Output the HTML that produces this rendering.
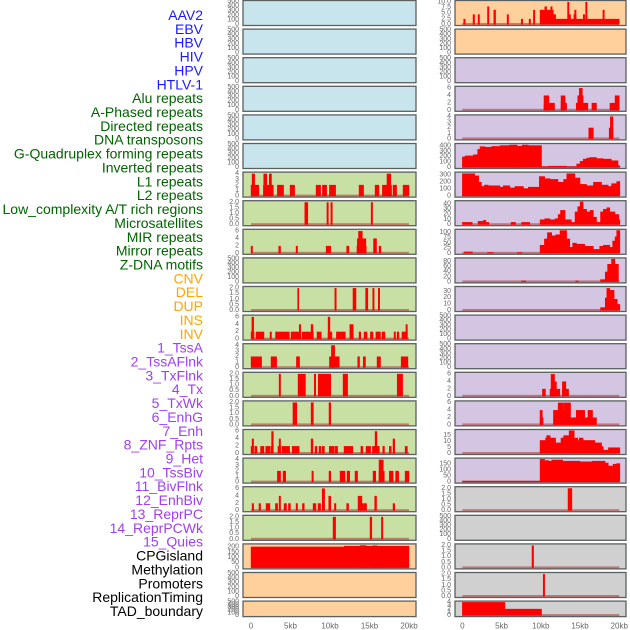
<!DOCTYPE html>
<html><head><meta charset="utf-8">
<style>
html,body{margin:0;padding:0;background:#fff;}
svg{display:block;}
.lab{font-family:"Liberation Sans",sans-serif;font-size:14px;}
.tk{font-family:"Liberation Sans",sans-serif;font-size:7px;fill:#666;}
.xt{font-family:"Liberation Sans",sans-serif;font-size:8px;fill:#666;}
</style></head>
<body>
<svg id="chart" width="630" height="630" viewBox="0 0 630 630"></svg>
<script>
// ---- data ----
const trackNames = ["AAV2","EBV","HBV","HIV","HPV","HTLV-1","Alu repeats","A-Phased repeats","Directed repeats","DNA transposons","G-Quadruplex forming repeats","Inverted repeats","L1 repeats","L2 repeats","Low_complexity A/T rich regions","Microsatellites","MIR repeats","Mirror repeats","Z-DNA motifs","CNV","DEL","DUP","INS","INV","1_TssA","2_TssAFlnk","3_TxFlnk","4_Tx","5_TxWk","6_EnhG","7_Enh","8_ZNF_Rpts","9_Het","10_TssBiv","11_BivFlnk","12_EnhBiv","13_ReprPC","14_ReprPCWk","15_Quies","CPGisland","Methylation","Promoters","ReplicationTiming","TAD_boundary"];
const trackGroups = ["v","v","v","v","v","v","r","r","r","r","r","r","r","r","r","r","r","r","r","s","s","s","s","s","h","h","h","h","h","h","h","h","h","h","h","h","h","h","h","o","o","o","o","o"];
const xTickLabels = ["0","5kb","10kb","15kb","20kb"];
const xTickValues = [0,5,10,15,20];
const ticksEmpty = [0,100,200,300,400,500];
const ticks2 = [0,0.5,1.0,1.5,2.0];
const ticks4 = [0,1,2,3,4];
const ticks6 = [0,2,4,6];

// left column segments [startKb, endKb, value]
const L7 = [[0,1.0,2],[0.13,0.47,4],[1.56,2.83,2],[1.6,2.0,4],[2.3,2.6,4],[3.33,4.13,2],[4.94,5.53,2],[8.23,8.82,2],[9.03,9.58,2],[9.92,10.72,2],[13.67,14.26,2],[15.7,16.2,2],[16.62,17.8,2],[17.2,17.7,4],[17.97,18.44,2],[19.24,20.0,2]];
const L8 = [[6.8,7.2,2],[9.6,9.8,2],[10.1,10.3,2],[15.2,15.4,2]];
const L9 = [[0,0.2,2],[3.5,3.75,2],[5.7,5.9,2],[9.5,10.1,2],[12.1,12.4,2],[13.4,14.6,2],[13.45,14.55,4],[13.6,14.1,6],[15.5,15.9,4],[16.2,16.45,2]];
const L11 = [[5.9,6.05,2],[10.6,10.8,2],[12.9,13.3,2],[14.5,14.8,2],[15.4,15.6,2],[16.1,16.3,2]];
const L12 = [[0,0.4,2],[0.1,0.35,6],[0.63,1.65,2],[2.4,2.6,2],[3.1,4.85,2],[5.06,6.2,2],[6.1,6.3,4],[6.45,7.9,2],[7.6,7.85,4],[8.35,8.9,2],[9.75,10.25,2],[9.75,10.0,6],[10.8,11.95,2],[12.5,12.95,4],[13.67,13.9,2],[14.3,14.7,2],[15.1,15.45,2],[15.8,16.4,2],[16.58,16.96,2],[18.1,18.3,2],[18.48,18.73,2],[19.1,19.8,2],[19.6,19.8,4]];
const L13 = [[0,1.35,2],[2.53,3.25,2],[5.74,6.16,2],[9.92,11.18,2],[10.17,10.6,4],[13.5,13.75,2],[14.2,14.5,2],[15.95,16.4,2],[19.0,19.87,2]];
const L14 = [[3.55,3.75,2],[5.95,6.9,2],[8.0,8.2,2],[8.5,10.1,2],[11.65,12.24,2],[18.5,19.2,2]];
const L15 = [[5.3,5.8,2],[7.6,7.9,2],[9.87,10.1,2]];
const L16 = [[0,0.3,2],[0.13,0.34,4],[0.46,0.76,2],[1.2,1.65,2],[1.86,2.4,2],[2.5,2.83,2],[2.6,2.83,6],[3.4,3.75,2],[3.55,3.75,4],[3.9,4.9,2],[5.2,6.1,2],[7.6,7.85,4],[8.1,8.35,2],[8.6,8.86,2],[9.0,9.3,2],[9.9,10.5,2],[10.6,10.97,2],[11.77,12.9,2],[13.9,14.17,2],[14.55,15.15,2],[15.36,16.25,2],[15.7,15.95,6],[16.67,16.9,2],[17.5,17.76,2],[17.97,18.2,4],[19.5,19.8,2]];
const L17 = [[3.33,3.75,2],[4.05,4.4,2],[7.7,7.9,2],[9.87,10.1,2],[11.27,11.9,2],[12.15,12.5,2],[13.16,13.5,2],[15.44,15.8,2],[16.2,16.88,2],[16.2,16.75,4],[17.5,18.0,2],[18.3,18.7,2],[19.5,20.0,2]];
const L18 = [[0.13,0.34,2],[1.0,1.22,2],[1.9,2.4,2],[3.08,3.38,2],[3.55,3.75,4],[4.18,4.5,2],[4.73,5.0,2],[5.7,5.9,2],[6.5,6.75,2],[7.85,8.23,2],[8.48,8.82,2],[9.0,9.33,6],[9.83,10.1,4],[10.55,10.76,2],[12.1,12.36,2],[13.54,14.05,4],[14.05,14.26,2],[14.3,14.64,2],[15.65,15.9,4],[17.97,18.2,2]];
const L19 = [[10.38,10.72,2],[15.06,15.3,2],[16.5,16.7,2]];
const L20 = [[0,11.8,205],[11.8,20.0,212],[13.8,14.6,218],[15.4,16.0,216]];

// right column segments
const R1 = [[0.17,0.38,2.5],[1.36,1.57,4.5],[2.0,2.2,4.5],[3.2,3.4,8],[4.0,4.25,6.5],[5.7,5.9,4.5],[7.5,7.7,2.5],[8.5,8.7,2.5],[9.05,9.25,6.5],[9.9,11.6,6.5],[10.5,10.75,8],[11.25,11.46,8],[11.6,11.9,4.5],[11.9,20.0,2.5],[13.4,13.6,10],[13.55,13.8,4.5],[14.2,14.5,4.5],[14.3,14.5,6.5],[15.4,15.6,4.5],[15.7,15.9,10],[17.9,18.1,6.5]];
const R4 = [[10.4,11.76,2],[10.4,11.04,4],[12.57,13.3,2],[12.57,13.1,4],[14.5,16.0,2],[14.7,15.4,4],[14.9,15.3,6],[16.5,17.1,2],[18.8,20.0,2],[19.45,20.0,4]];
const R5 = [[16.1,16.7,2],[18.7,19.2,2],[18.85,19.2,4]];
const R6 = [[0,0.34,200],[0.34,1.4,220],[1.4,1.95,240],[1.95,2.25,340],[2.25,2.9,390],[2.9,3.74,380],[3.74,4.8,395],[4.8,6.0,410],[6.0,7.0,420],[7.0,7.64,400],[7.64,8.4,420],[8.4,10.1,410],[10.1,10.96,20],[10.96,13.3,30],[13.3,14.56,20],[14.56,15.0,70],[15.0,15.4,120],[15.4,15.84,160],[15.84,16.26,180],[16.26,17.1,190],[17.1,17.96,170],[17.96,19.0,160],[19.0,19.85,130],[19.85,20.08,40]];
const R7 = [[0,1.6,320],[1.6,2.1,290],[2.1,2.45,200],[2.45,2.8,140],[2.8,3.3,160],[3.3,4.8,150],[4.8,5.2,130],[5.2,6.07,150],[6.07,6.7,120],[6.7,7.8,140],[7.8,8.4,110],[8.4,9.8,130],[9.8,10.5,280],[10.5,11.2,250],[11.2,12.2,240],[12.2,12.9,200],[12.9,13.3,240],[13.3,14.35,320],[14.35,15.0,260],[15.0,15.84,170],[15.84,16.7,150],[16.7,17.75,200],[17.75,18.6,160],[18.6,19.0,140],[19.0,19.66,180],[19.66,20.08,210]];
const R8 = [[0,1.27,5],[2.0,2.7,7],[2.7,3.0,9],[3.0,3.4,5],[6.2,6.8,5],[7.55,8.6,5],[9.9,10.5,10],[10.5,11.17,12],[11.17,11.8,10],[11.8,12.2,12],[12.2,12.5,20],[12.5,13.1,28],[13.1,13.9,10],[13.9,14.35,5],[14.35,14.7,25],[14.7,15.0,35],[15.0,15.4,44],[15.4,15.84,30],[15.84,16.26,25],[16.26,16.7,28],[16.7,17.1,15],[17.1,17.6,5],[17.6,17.96,25],[17.96,18.4,30],[18.4,18.8,33],[18.8,19.45,25],[19.45,19.95,20],[19.95,20.08,10]];
const R9 = [[0.25,1.3,8],[3.2,3.95,5],[7.0,7.6,5],[9.9,10.45,40],[10.45,10.83,70],[10.83,11.4,100],[11.4,11.9,85],[11.9,12.44,90],[12.44,13.3,110],[13.3,13.7,70],[13.7,14.05,30],[14.05,14.56,50],[14.56,15.6,45],[15.6,16.7,35],[16.7,17.5,20],[17.5,17.96,35],[17.96,18.8,40],[18.8,19.15,30],[19.15,19.45,60],[19.45,19.66,80],[19.66,20.08,110]];
const R10 = [[7.55,8.1,5],[14.43,14.8,5],[17.6,18.2,10],[18.2,18.5,40],[18.5,19.0,70],[19.0,19.45,90],[19.45,19.9,70]];
const R11 = [[17.6,18.2,5],[18.2,18.4,20],[18.4,18.8,35],[18.8,19.35,32],[19.35,19.75,18],[19.75,20.08,10]];
const R14 = [[10.2,10.6,2],[11.17,12.44,2],[11.3,11.76,6],[11.76,12.0,4],[12.74,13.55,2],[12.74,13.2,4]];
const R15 = [[9.9,10.3,2],[9.9,10.2,4],[11.6,12.2,4],[12.2,12.9,6],[12.9,12.95,4],[12.95,13.8,6],[13.8,14.5,2],[14.5,15.6,4],[15.6,16.0,2],[16.0,16.6,4],[16.6,17.1,2]];
const R16 = [[9.9,10.6,11],[10.6,10.74,13],[10.74,11.2,15],[11.2,11.9,13],[11.9,12.56,9],[12.56,12.9,13],[12.9,13.6,15],[13.6,14.27,19],[14.27,14.7,13],[14.7,14.86,11],[14.86,15.4,13],[15.4,16.9,11],[16.9,17.75,9],[17.75,17.96,6],[17.96,18.6,3],[18.6,20.08,5]];
const R17 = [[0,9.9,10],[9.9,10.5,190],[10.5,11.0,180],[11.0,11.4,175],[11.4,12.8,185],[12.8,15.0,175],[15.0,16.56,170],[16.56,18.2,175],[18.2,18.6,160],[18.6,19.2,135],[19.2,19.66,150],[19.66,20.08,155]];
const R18 = [[13.46,13.97,2]];
const R20 = [[8.87,9.09,2]];
const R21 = [[10.3,10.5,2]];
const R22 = [[0,5.44,4],[5.44,10.1,2]];

// panel specs: [column, row, bg, ticks, yTop, segs]
const panels = [
 ["L",0,"blue",ticksEmpty,500,null],["L",1,"blue",ticksEmpty,500,null],["L",2,"blue",ticksEmpty,500,null],
 ["L",3,"blue",ticksEmpty,500,null],["L",4,"blue",ticksEmpty,500,null],["L",5,"blue",ticksEmpty,500,null],
 ["L",6,"green",ticks4,4.1,L7],["L",7,"green",ticks2,2.05,L8],["L",8,"green",ticks6,6.2,L9],
 ["L",9,"green",ticksEmpty,500,null],["L",10,"green",ticks2,2.05,L11],["L",11,"green",ticks6,6.2,L12],
 ["L",12,"green",ticks4,4.1,L13],["L",13,"green",ticks2,2.05,L14],["L",14,"green",ticks2,2.05,L15],
 ["L",15,"green",ticks6,6.2,L16],["L",16,"green",ticks4,4.1,L17],["L",17,"green",ticks6,6.2,L18],
 ["L",18,"green",ticks2,2.05,L19],["L",19,"peach",[0,50,100,150,200],222,L20],
 ["L",20,"peach",ticksEmpty,500,null],["L",21,"peach",ticksEmpty,500,null],
 ["R",0,"peach",[0.0,2.5,5.0,7.5,10.0],10.2,R1],["R",1,"peach",ticksEmpty,500,null],
 ["R",2,"lav",ticksEmpty,500,null],["R",3,"lav",ticks6,6.2,R4],["R",4,"lav",ticks4,4.1,R5],
 ["R",5,"lav",[0,100,200,300,400],425,R6],["R",6,"lav",[0,100,200,300],325,R7],
 ["R",7,"lav",[0,10,20,30,40],44,R8],["R",8,"lav",[0,25,50,75,100],110,R9],
 ["R",9,"lav",[0,20,40,60,80],90,R10],["R",10,"lav",[0,10,20,30],36,R11],
 ["R",11,"lav",ticksEmpty,500,null],["R",12,"lav",ticksEmpty,500,null],
 ["R",13,"lav",ticks6,6.2,R14],["R",14,"lav",ticks6,6.2,R15],["R",15,"lav",[0,5,10,15],19,R16],
 ["R",16,"lav",[0,50,100,150],190,R17],["R",17,"gray",ticks2,2.05,R18],
 ["R",18,"gray",ticksEmpty,500,null],["R",19,"gray",ticks2,2.05,R20],["R",20,"gray",ticks2,2.05,R21],
 ["R",21,"gray",ticks4,4,R22]
];

// ---- rendering ----
const NS = "http://www.w3.org/2000/svg";
const svg = document.getElementById("chart");
const bgColors = {blue:"#c8e4ec",green:"#c8e0a4",peach:"#ffd09c",lav:"#d4c6e2",gray:"#d0d0d0"};
const groupColors = {v:"#1a1aff",r:"#006400",s:"#ffa500",h:"#a040f0",o:"#000000"};
const colGeom = {L:{left:243,right:416,x0:251,pxPerKb:7.9},R:{left:455,right:626,x0:462.3,pxPerKb:7.85}};
function rowTop(r){return 0.5 + r*28.6;}
function rowH(r){return r===21 ? 15.5 : 25;}
function xScale(col,kb){return colGeom[col].x0 + kb*colGeom[col].pxPerKb;}
function yScale(r,yTop,v){const b=rowTop(r)+rowH(r)-1;return b - (v/yTop)*(rowH(r)-2);}
function mk(tag,attrs){const e=document.createElementNS(NS,tag);for(const k in attrs)e.setAttribute(k,attrs[k]);return e;}

// labels
trackNames.forEach((n,i)=>{
  const t=mk("text",{x:203,y:15+i*13.86,"text-anchor":"end","dominant-baseline":"central",class:"lab",fill:groupColors[trackGroups[i]]});
  
  
  t.textContent=n;svg.appendChild(t);
});

panels.forEach(p=>{
  const [col,r,bg,ticks,yTop,segs]=p;
  const g=colGeom[col];const top=rowTop(r);const h=rowH(r);
  const grp=mk("g",{});
  
  
  const rect=mk("rect",{x:g.left,y:top,width:g.right-g.left,height:h,fill:bgColors[bg]});
  
  
  grp.appendChild(rect);
  if(segs){
    const base=mk("rect",{x:xScale(col,0),y:yScale(r,yTop,0)-1.5,width:20*g.pxPerKb,height:2,fill:"#b03030","fill-opacity":"0.55"});
    
    
    grp.appendChild(base);
    segs.forEach(s=>{
      const x1=xScale(col,s[0]),x2=xScale(col,s[1]);const y=yScale(r,yTop,s[2]);const yb=yScale(r,yTop,0);
      const yy=Math.max(top+0.5,y);
      const b=mk("rect",{x:x1-0.2,y:yy,width:Math.max(1,x2-x1)+0.4,height:yb-yy,fill:"#ff0000"});
      
      
      grp.appendChild(b);
    });
  }
  const border=mk("rect",{x:g.left,y:top,width:g.right-g.left,height:h,fill:"none",stroke:"#5a6060","stroke-width":"1.3"});
  
  
  grp.appendChild(border);
  ticks.forEach(tv=>{
    const t=mk("text",{x:g.left-4,y:yScale(r,yTop,Math.min(tv,yTop)),"text-anchor":"end","dominant-baseline":"central",class:"tk"});
    
    
    t.textContent = (ticks===ticks2||tv%1!==0||(ticks[1]===2.5)) ? tv.toFixed(1) : String(tv);
    grp.appendChild(t);
  });
  svg.appendChild(grp);
});

["L","R"].forEach(col=>{
  xTickValues.forEach((v,i)=>{
    const t=mk("text",{x:xScale(col,v),y:626,"text-anchor":"middle","dominant-baseline":"central",class:"xt"});
    
    
    t.textContent=xTickLabels[i];svg.appendChild(t);
  });
});
</script>
</body></html>
